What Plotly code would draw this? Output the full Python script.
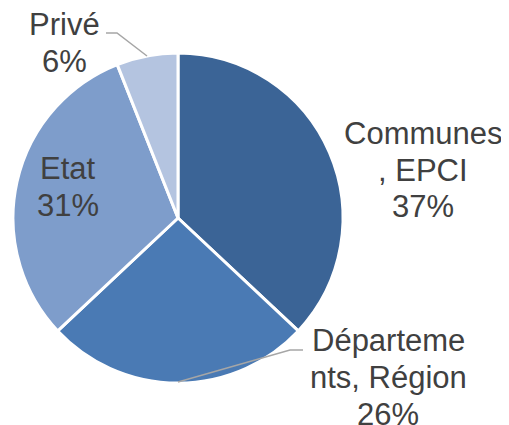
import plotly.graph_objects as go

labels = ["Communes, EPCI", "Départements, Région", "Etat", "Privé"]
values = [37, 26, 31, 6]
colors = ["#3B6496", "#4A7AB4", "#7E9DCB", "#B4C4E0"]
label_lines = [
    ["Communes", ", EPCI", "37%"],
    ["Départeme", "nts, Région", "26%"],
    ["Etat", "31%"],
    ["Privé", "6%"],
]

OFF = 8  # page body margin in the rendered page
W, H = 509 - OFF, 425 - OFF

def px(x):
    return (x - OFF) / W

def py(y):
    return 1 - (y - OFF) / H

fig = go.Figure(go.Pie(
    labels=labels,
    values=values,
    sort=False,
    direction="clockwise",
    rotation=0,
    marker=dict(colors=colors, line=dict(color="white", width=3)),
    textinfo="none",
    hoverinfo="label+percent",
    showlegend=False,
    domain=dict(x=[px(13), px(343)], y=[py(383), py(53)]),
))

label_pos = [(423, 170), (388, 377), (68, 187), (64, 43)]
spacing = 37
for lines, (x, y) in zip(label_lines, label_pos):
    n = len(lines)
    for i, t in enumerate(lines):
        yy = y + (i - (n - 1) / 2) * spacing
        fig.add_annotation(x=px(x), y=py(yy), xref="paper", yref="paper", text=t,
                           showarrow=False, xanchor="center", yanchor="middle",
                           font=dict(family="Liberation Sans, Arial", size=31, color="#404040"))

leaders = [
    [(106, 33), (117, 33), (147, 56)],
    [(303, 350), (290, 350), (178, 382)],
]
for pts in leaders:
    path = "M " + " L ".join(f"{px(x)},{py(y)}" for x, y in pts)
    fig.add_shape(type="path", path=path, xref="paper", yref="paper",
                  line=dict(color="#A6A6A6", width=1.5))

fig.update_layout(width=W, height=H, margin=dict(l=0, r=0, t=0, b=0),
                  paper_bgcolor="white", plot_bgcolor="white")
fig.write_html("out.html")
